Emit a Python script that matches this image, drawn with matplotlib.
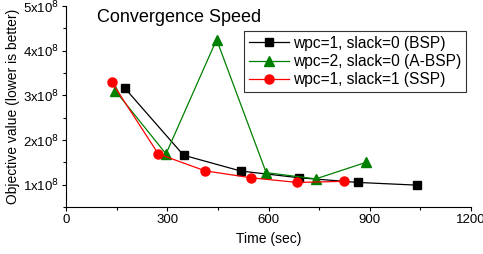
import matplotlib.pyplot as plt
from matplotlib.ticker import MultipleLocator, FuncFormatter

plt.rcParams['font.family'] = ['Liberation Sans', 'DejaVu Sans']

bsp_t = [173, 348, 518, 691, 866, 1039]
bsp_v = [3.17e8, 1.66e8, 1.305e8, 1.155e8, 1.05e8, 0.99e8]
absp_t = [146, 296, 446, 593, 740, 889]
absp_v = [3.10e8, 1.69e8, 4.25e8, 1.27e8, 1.13e8, 1.50e8]
ssp_t = [135, 273, 412, 548, 685, 825]
ssp_v = [3.30e8, 1.69e8, 1.31e8, 1.155e8, 1.05e8, 1.075e8]

fig = plt.figure(figsize=(4.83, 2.54), dpi=100)
ax = fig.add_axes([0.137, 0.185, 0.838, 0.791])

ax.plot(bsp_t, bsp_v, color="black", lw=0.9, marker="s", ms=5.5,
        label="wpc=1, slack=0 (BSP)")
ax.plot(absp_t, absp_v, color="green", lw=0.9, marker="^", ms=6.5,
        label="wpc=2, slack=0 (A-BSP)")
ax.plot(ssp_t, ssp_v, color="red", lw=0.9, marker="o", ms=6.5,
        label="wpc=1, slack=1 (SSP)")

ax.set_xlim(0, 1200)
ax.set_ylim(0.5e8, 5e8)
ax.xaxis.set_major_locator(MultipleLocator(300))
ax.xaxis.set_minor_locator(MultipleLocator(150))
ax.yaxis.set_major_locator(MultipleLocator(1e8))
ax.yaxis.set_minor_locator(MultipleLocator(0.5e8))
ax.yaxis.set_major_formatter(FuncFormatter(lambda v, p: "%dx10$^8$" % round(v / 1e8)))
ax.tick_params(labelsize=9.5, length=3, width=0.8, pad=2)
ax.tick_params(which="minor", length=2, width=0.8)
for s in ["top", "right"]:
    ax.spines[s].set_visible(False)

ax.set_xlabel("Time (sec)", fontsize=10)
ax.set_ylabel("Objective value (lower is better)", fontsize=10, labelpad=2)
ax.text(0.075, 0.985, "Convergence Speed", transform=ax.transAxes,
        fontsize=13, va="top", ha="left")

leg = ax.legend(loc="upper right", bbox_to_anchor=(0.988, 0.875), fontsize=11.2,
                fancybox=False, framealpha=1, edgecolor="#333333",
                borderpad=0.3, labelspacing=0.2, handlelength=2.6,
                handletextpad=0.25, borderaxespad=0)
leg.get_frame().set_linewidth(0.8)

fig.savefig("out.png", dpi=100)
